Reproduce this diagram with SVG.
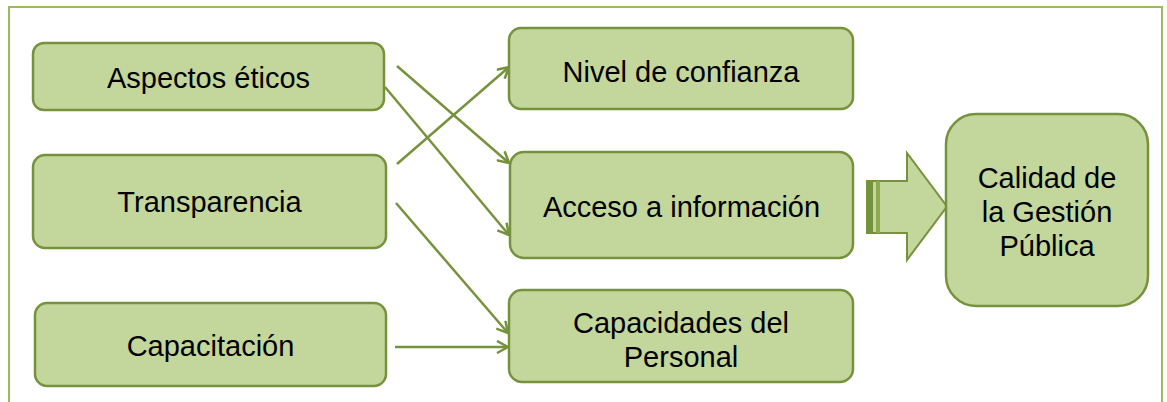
<svg xmlns="http://www.w3.org/2000/svg" width="1167" height="402" viewBox="0 0 1167 402">
<style>
.node{fill:#C3D69B;stroke:#76923C;stroke-width:2.5}
.lbl{font-family:"Liberation Sans",Arial,sans-serif;font-size:29px;fill:#000;text-anchor:middle}
.conn{stroke:#76923C;stroke-width:2.5;fill:none;marker-end:url(#ah)}
</style>
<defs>
<marker id="ah" viewBox="0 0 14 14" refX="12" refY="7" markerWidth="14" markerHeight="14" markerUnits="userSpaceOnUse" orient="auto">
<path d="M1,1 L12,7 L1,13" fill="none" stroke="#76923C" stroke-width="2.5"/>
</marker>
</defs>
<rect x="0" y="0" width="1167" height="402" fill="#fff"/>
<rect id="frame" x="9" y="7" width="1153" height="410" fill="none" stroke="#9BBB59" stroke-width="2"/>
<g id="connectors">
<line class="conn" x1="397" y1="66" x2="509" y2="163"/>
<line class="conn" x1="385" y1="87" x2="509" y2="235"/>
<line class="conn" x1="397" y1="164" x2="509" y2="67"/>
<line class="conn" x1="396" y1="203" x2="508" y2="333"/>
<line class="conn" x1="395" y1="347" x2="508" y2="347"/>
<g id="block-arrow">
<path d="M867,181 L907,181 L907,153 L947,206.5 L907,260 L907,233 L867,233 Z" fill="#C3D69B" stroke="#76923C" stroke-width="2"/>
<rect x="867" y="181" width="6" height="52" fill="#76923C"/>
<rect x="876" y="181" width="4" height="52" fill="#8DAA4F"/>
</g>
</g>
<g id="n-aspectos">
<rect class="node" x="33" y="43" width="351" height="67" rx="11"/>
<text class="lbl" x="208.5" y="88">Aspectos éticos</text>
</g>
<g id="n-transparencia">
<rect class="node" x="33" y="155" width="353" height="93" rx="12"/>
<text class="lbl" x="209.5" y="212">Transparencia</text>
</g>
<g id="n-capacitacion">
<rect class="node" x="35" y="303" width="351" height="83" rx="12"/>
<text class="lbl" x="210.5" y="356">Capacitación</text>
</g>
<g id="n-nivel">
<rect class="node" x="509" y="28" width="344" height="81" rx="12"/>
<text class="lbl" x="681" y="82">Nivel de confianza</text>
</g>
<g id="n-acceso">
<rect class="node" x="510" y="152" width="343" height="106" rx="14"/>
<text class="lbl" x="681.5" y="217">Acceso a información</text>
</g>
<g id="n-capacidades">
<rect class="node" x="509" y="290" width="344" height="92" rx="13"/>
<text class="lbl" x="681" y="333">Capacidades del</text>
<text class="lbl" x="681" y="367">Personal</text>
</g>
<g id="n-calidad">
<rect class="node" x="946" y="114" width="202" height="192" rx="30"/>
<text class="lbl" x="1047" y="188">Calidad de</text>
<text class="lbl" x="1047" y="222">la Gestión</text>
<text class="lbl" x="1047" y="256">Pública</text>
</g>
</svg>
